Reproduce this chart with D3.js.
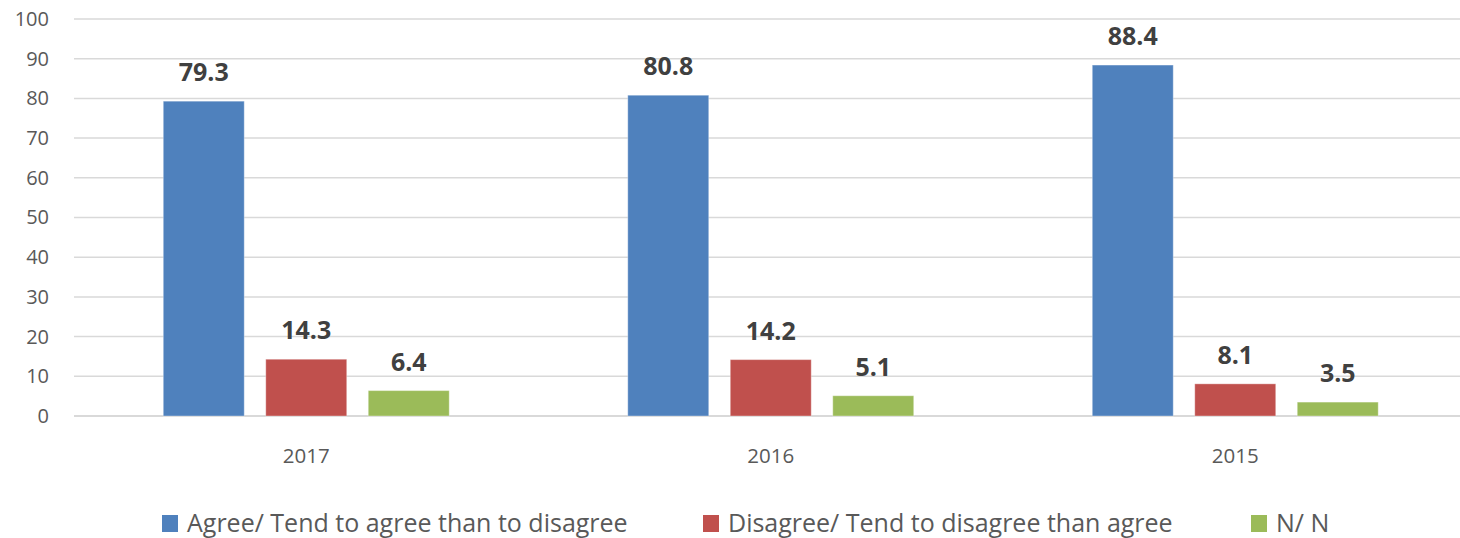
<!DOCTYPE html>
<html><head><meta charset="utf-8">
<script src="https://cdn.jsdelivr.net/npm/d3@7"></script>
<style>body{margin:0;background:#fff;}svg{display:block;}</style>
</head><body>
<svg id="chart" width="1460" height="538"></svg>
<script>
const years = ["2017", "2016", "2015"];
const seriesNames = ["Agree/ Tend to agree than to disagree", "Disagree/ Tend to disagree than agree", "N/ N"];
const agree = [79.3, 80.8, 88.4];
const disagree = [14.3, 14.2, 8.1];
const nn = [6.4, 5.1, 3.5];
const yTicks = [0, 10, 20, 30, 40, 50, 60, 70, 80, 90, 100];
const colors = ["#4F81BD", "#C0504D", "#9BBB59"];

const seriesValues = [agree, disagree, nn];
const svg = d3.select("#chart");
const plotLeft = 74, plotRight = 1467.5, plotTop = 19, plotBottom = 416;

const x0 = d3.scaleBand().domain(years).range([plotLeft, plotRight]).padding(0);
const x1 = d3.scaleBand().domain(d3.range(3)).range([0, x0.bandwidth()]).paddingInner(0.21).paddingOuter(0.871);
const y = d3.scaleLinear().domain([0, 100]).range([plotBottom, plotTop]);

// gridlines
svg.append("g").selectAll("line").data(yTicks).join("line")
  .attr("x1", plotLeft).attr("x2", 1460)
  .attr("y1", d => y(d)).attr("y2", d => y(d))
  .attr("stroke", "#D9D9D9").attr("stroke-width", d => d === 0 ? 2 : 1.5);

// y axis labels
const yAxis = d3.axisLeft(y).tickValues(yTicks).tickSize(0).tickPadding(0);
const yg = svg.append("g").attr("transform", `translate(49,0)`).call(yAxis);
yg.select(".domain").remove();
yg.selectAll("text").attr("font-family", "'Open Sans', sans-serif").attr("font-size", 20).attr("fill", "#595959");

// x axis labels
const xAxis = d3.axisBottom(x0).tickSize(0).tickPadding(0);
const xg = svg.append("g").attr("transform", `translate(0,463)`).call(xAxis);
xg.select(".domain").remove();
xg.selectAll("text").attr("y", 0).attr("dy", 0)
  .attr("font-family", "'Open Sans', sans-serif").attr("font-size", 20.5).attr("fill", "#595959");

// bars
const groups = svg.append("g").selectAll("g").data(years).join("g")
  .attr("transform", d => `translate(${x0(d)},0)`);
groups.each(function(yr, gi) {
  const g = d3.select(this);
  const data = seriesValues.map((arr, si) => ({si, v: arr[gi]}));
  g.selectAll("rect").data(data).join("rect")
    .attr("x", d => x1(d.si)).attr("width", x1.bandwidth())
    .attr("y", d => y(d.v)).attr("height", d => y(0) - y(d.v))
    .attr("fill", d => colors[d.si])
    .attr("stroke", "#ffffff").attr("stroke-opacity", 0.35).attr("stroke-width", 1);
  g.selectAll("text").data(data).join("text")
    .attr("x", d => x1(d.si) + x1.bandwidth() / 2)
    .attr("y", d => y(d.v) - 20)
    .attr("text-anchor", "middle")
    .attr("font-family", "'Open Sans', sans-serif").attr("font-weight", "bold")
    .attr("font-size", 25).attr("fill", "#404040")
    .text(d => d.v.toFixed(1));
});

// legend
const legendX = [162, 703, 1251];
const lg = svg.append("g").selectAll("g").data(seriesNames).join("g")
  .attr("transform", (d, i) => `translate(${legendX[i]},515)`);
lg.append("rect").attr("width", 16).attr("height", 17).attr("fill", (d, i) => colors[i]);
lg.append("text").attr("x", 25).attr("y", 17)
  .attr("font-family", "'Open Sans', sans-serif").attr("font-size", 25).attr("fill", "#595959")
  .text(d => d);
</script>
</body></html>
